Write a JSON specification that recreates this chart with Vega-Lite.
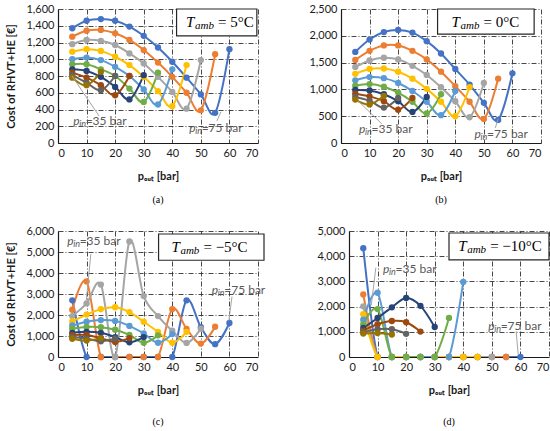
{
  "$schema": "https://vega.github.io/schema/vega-lite/v6.json",
  "padding": {"top": 3, "left": 5, "right": 5, "bottom": 5},
  "datasets": {
    "curves": [
      {"p":"a","s":"s01","x":5,"y":1370},{"p":"a","s":"s01","x":10,"y":1460},{"p":"a","s":"s01","x":15,"y":1480},{"p":"a","s":"s01","x":20,"y":1460},{"p":"a","s":"s01","x":25,"y":1390},{"p":"a","s":"s01","x":30,"y":1280},{"p":"a","s":"s01","x":35,"y":1140},{"p":"a","s":"s01","x":40,"y":970},{"p":"a","s":"s01","x":45,"y":780},{"p":"a","s":"s01","x":50,"y":580},{"p":"a","s":"s01","x":55,"y":360},{"p":"a","s":"s01","x":60,"y":1120},
      {"p":"a","s":"s02","x":5,"y":1270},{"p":"a","s":"s02","x":10,"y":1340},{"p":"a","s":"s02","x":15,"y":1350},{"p":"a","s":"s02","x":20,"y":1310},{"p":"a","s":"s02","x":25,"y":1230},{"p":"a","s":"s02","x":30,"y":1110},{"p":"a","s":"s02","x":35,"y":960},{"p":"a","s":"s02","x":40,"y":790},{"p":"a","s":"s02","x":45,"y":600},{"p":"a","s":"s02","x":50,"y":390},{"p":"a","s":"s02","x":55,"y":1060},
      {"p":"a","s":"s03","x":5,"y":1180},{"p":"a","s":"s03","x":10,"y":1230},{"p":"a","s":"s03","x":15,"y":1220},{"p":"a","s":"s03","x":20,"y":1170},{"p":"a","s":"s03","x":25,"y":1070},{"p":"a","s":"s03","x":30,"y":950},{"p":"a","s":"s03","x":35,"y":790},{"p":"a","s":"s03","x":40,"y":610},{"p":"a","s":"s03","x":45,"y":410},{"p":"a","s":"s03","x":50,"y":990},
      {"p":"a","s":"s04","x":5,"y":1090},{"p":"a","s":"s04","x":10,"y":1120},{"p":"a","s":"s04","x":15,"y":1100},{"p":"a","s":"s04","x":20,"y":1030},{"p":"a","s":"s04","x":25,"y":930},{"p":"a","s":"s04","x":30,"y":790},{"p":"a","s":"s04","x":35,"y":620},{"p":"a","s":"s04","x":40,"y":440},{"p":"a","s":"s04","x":45,"y":930},
      {"p":"a","s":"s05","x":5,"y":1000},{"p":"a","s":"s05","x":10,"y":1020},{"p":"a","s":"s05","x":15,"y":990},{"p":"a","s":"s05","x":20,"y":910},{"p":"a","s":"s05","x":25,"y":800},{"p":"a","s":"s05","x":30,"y":640},{"p":"a","s":"s05","x":35,"y":460},{"p":"a","s":"s05","x":40,"y":880},
      {"p":"a","s":"s06","x":5,"y":940},{"p":"a","s":"s06","x":10,"y":940},{"p":"a","s":"s06","x":15,"y":880},{"p":"a","s":"s06","x":20,"y":800},{"p":"a","s":"s06","x":25,"y":650},{"p":"a","s":"s06","x":30,"y":490},{"p":"a","s":"s06","x":35,"y":840},
      {"p":"a","s":"s07","x":5,"y":880},{"p":"a","s":"s07","x":10,"y":860},{"p":"a","s":"s07","x":15,"y":790},{"p":"a","s":"s07","x":20,"y":670},{"p":"a","s":"s07","x":25,"y":520},{"p":"a","s":"s07","x":30,"y":810},
      {"p":"a","s":"s08","x":5,"y":840},{"p":"a","s":"s08","x":10,"y":780},{"p":"a","s":"s08","x":15,"y":690},{"p":"a","s":"s08","x":20,"y":570},{"p":"a","s":"s08","x":25,"y":800},
      {"p":"a","s":"s09","x":5,"y":810},{"p":"a","s":"s09","x":10,"y":720},{"p":"a","s":"s09","x":15,"y":630},{"p":"a","s":"s09","x":20,"y":800},
      {"p":"a","s":"s10","x":5,"y":780},{"p":"a","s":"s10","x":10,"y":690},{"p":"a","s":"s10","x":15,"y":850},

      {"p":"b","s":"s01","x":5,"y":1700},{"p":"b","s":"s01","x":10,"y":1930},{"p":"b","s":"s01","x":15,"y":2070},{"p":"b","s":"s01","x":20,"y":2110},{"p":"b","s":"s01","x":25,"y":2060},{"p":"b","s":"s01","x":30,"y":1900},{"p":"b","s":"s01","x":35,"y":1670},{"p":"b","s":"s01","x":40,"y":1380},{"p":"b","s":"s01","x":45,"y":1090},{"p":"b","s":"s01","x":50,"y":750},{"p":"b","s":"s01","x":55,"y":430},{"p":"b","s":"s01","x":60,"y":1300},
      {"p":"b","s":"s02","x":5,"y":1550},{"p":"b","s":"s02","x":10,"y":1720},{"p":"b","s":"s02","x":15,"y":1820},{"p":"b","s":"s02","x":20,"y":1820},{"p":"b","s":"s02","x":25,"y":1720},{"p":"b","s":"s02","x":30,"y":1560},{"p":"b","s":"s02","x":35,"y":1330},{"p":"b","s":"s02","x":40,"y":1060},{"p":"b","s":"s02","x":45,"y":770},{"p":"b","s":"s02","x":50,"y":450},{"p":"b","s":"s02","x":55,"y":1200},
      {"p":"b","s":"s03","x":5,"y":1420},{"p":"b","s":"s03","x":10,"y":1540},{"p":"b","s":"s03","x":15,"y":1590},{"p":"b","s":"s03","x":20,"y":1560},{"p":"b","s":"s03","x":25,"y":1440},{"p":"b","s":"s03","x":30,"y":1270},{"p":"b","s":"s03","x":35,"y":1040},{"p":"b","s":"s03","x":40,"y":780},{"p":"b","s":"s03","x":45,"y":480},{"p":"b","s":"s03","x":50,"y":1120},
      {"p":"b","s":"s04","x":5,"y":1290},{"p":"b","s":"s04","x":10,"y":1380},{"p":"b","s":"s04","x":15,"y":1390},{"p":"b","s":"s04","x":20,"y":1330},{"p":"b","s":"s04","x":25,"y":1200},{"p":"b","s":"s04","x":30,"y":1010},{"p":"b","s":"s04","x":35,"y":770},{"p":"b","s":"s04","x":40,"y":500},{"p":"b","s":"s04","x":45,"y":1040},
      {"p":"b","s":"s05","x":5,"y":1170},{"p":"b","s":"s05","x":10,"y":1230},{"p":"b","s":"s05","x":15,"y":1210},{"p":"b","s":"s05","x":20,"y":1120},{"p":"b","s":"s05","x":25,"y":970},{"p":"b","s":"s05","x":30,"y":770},{"p":"b","s":"s05","x":35,"y":520},{"p":"b","s":"s05","x":40,"y":970},
      {"p":"b","s":"s06","x":5,"y":1070},{"p":"b","s":"s06","x":10,"y":1100},{"p":"b","s":"s06","x":15,"y":1050},{"p":"b","s":"s06","x":20,"y":940},{"p":"b","s":"s06","x":25,"y":770},{"p":"b","s":"s06","x":30,"y":550},{"p":"b","s":"s06","x":35,"y":910},
      {"p":"b","s":"s07","x":5,"y":990},{"p":"b","s":"s07","x":10,"y":980},{"p":"b","s":"s07","x":15,"y":910},{"p":"b","s":"s07","x":20,"y":780},{"p":"b","s":"s07","x":25,"y":580},{"p":"b","s":"s07","x":30,"y":860},
      {"p":"b","s":"s08","x":5,"y":920},{"p":"b","s":"s08","x":10,"y":870},{"p":"b","s":"s08","x":15,"y":780},{"p":"b","s":"s08","x":20,"y":620},{"p":"b","s":"s08","x":25,"y":840},
      {"p":"b","s":"s09","x":5,"y":860},{"p":"b","s":"s09","x":10,"y":790},{"p":"b","s":"s09","x":15,"y":660},{"p":"b","s":"s09","x":20,"y":840},
      {"p":"b","s":"s10","x":5,"y":810},{"p":"b","s":"s10","x":10,"y":720},{"p":"b","s":"s10","x":15,"y":880},

      {"p":"c","s":"s01","x":5,"y":2700},{"p":"c","s":"s01","x":10,"y":0},{"p":"c","s":"s01","x":15,"y":0},{"p":"c","s":"s01","x":20,"y":0},{"p":"c","s":"s01","x":25,"y":0},{"p":"c","s":"s01","x":30,"y":0},{"p":"c","s":"s01","x":35,"y":0},{"p":"c","s":"s01","x":40,"y":0},{"p":"c","s":"s01","x":45,"y":2700},{"p":"c","s":"s01","x":50,"y":1420},{"p":"c","s":"s01","x":55,"y":610},{"p":"c","s":"s01","x":60,"y":1620},
      {"p":"c","s":"s02","x":5,"y":2250},{"p":"c","s":"s02","x":10,"y":3600},{"p":"c","s":"s02","x":15,"y":0},{"p":"c","s":"s02","x":20,"y":0},{"p":"c","s":"s02","x":25,"y":0},{"p":"c","s":"s02","x":30,"y":0},{"p":"c","s":"s02","x":35,"y":0},{"p":"c","s":"s02","x":40,"y":2280},{"p":"c","s":"s02","x":45,"y":1340},{"p":"c","s":"s02","x":50,"y":640},{"p":"c","s":"s02","x":55,"y":1440},
      {"p":"c","s":"s03","x":5,"y":1950},{"p":"c","s":"s03","x":10,"y":2550},{"p":"c","s":"s03","x":15,"y":3450},{"p":"c","s":"s03","x":20,"y":0},{"p":"c","s":"s03","x":25,"y":5500},{"p":"c","s":"s03","x":30,"y":2900},{"p":"c","s":"s03","x":35,"y":1950},{"p":"c","s":"s03","x":40,"y":1250},{"p":"c","s":"s03","x":45,"y":670},{"p":"c","s":"s03","x":50,"y":1350},
      {"p":"c","s":"s04","x":5,"y":1700},{"p":"c","s":"s04","x":10,"y":2020},{"p":"c","s":"s04","x":15,"y":2280},{"p":"c","s":"s04","x":20,"y":2370},{"p":"c","s":"s04","x":25,"y":2140},{"p":"c","s":"s04","x":30,"y":1680},{"p":"c","s":"s04","x":35,"y":1200},{"p":"c","s":"s04","x":40,"y":680},{"p":"c","s":"s04","x":45,"y":1200},
      {"p":"c","s":"s05","x":5,"y":1500},{"p":"c","s":"s05","x":10,"y":1680},{"p":"c","s":"s05","x":15,"y":1760},{"p":"c","s":"s05","x":20,"y":1720},{"p":"c","s":"s05","x":25,"y":1480},{"p":"c","s":"s05","x":30,"y":1120},{"p":"c","s":"s05","x":35,"y":680},{"p":"c","s":"s05","x":40,"y":1090},
      {"p":"c","s":"s06","x":5,"y":1350},{"p":"c","s":"s06","x":10,"y":1430},{"p":"c","s":"s06","x":15,"y":1420},{"p":"c","s":"s06","x":20,"y":1300},{"p":"c","s":"s06","x":25,"y":1050},{"p":"c","s":"s06","x":30,"y":680},{"p":"c","s":"s06","x":35,"y":1030},
      {"p":"c","s":"s07","x":5,"y":1150},{"p":"c","s":"s07","x":10,"y":1200},{"p":"c","s":"s07","x":15,"y":1150},{"p":"c","s":"s07","x":20,"y":950},{"p":"c","s":"s07","x":25,"y":700},{"p":"c","s":"s07","x":30,"y":950},
      {"p":"c","s":"s08","x":5,"y":1050},{"p":"c","s":"s08","x":10,"y":1050},{"p":"c","s":"s08","x":15,"y":900},{"p":"c","s":"s08","x":20,"y":720},{"p":"c","s":"s08","x":25,"y":900},
      {"p":"c","s":"s09","x":5,"y":950},{"p":"c","s":"s09","x":10,"y":880},{"p":"c","s":"s09","x":15,"y":750},{"p":"c","s":"s09","x":20,"y":880},
      {"p":"c","s":"s10","x":5,"y":870},{"p":"c","s":"s10","x":10,"y":780},{"p":"c","s":"s10","x":15,"y":900},

      {"p":"d","s":"s01","x":5,"y":4320},{"p":"d","s":"s01","x":10,"y":0},{"p":"d","s":"s01","x":15,"y":0},{"p":"d","s":"s01","x":20,"y":0},{"p":"d","s":"s01","x":25,"y":0},{"p":"d","s":"s01","x":30,"y":0},{"p":"d","s":"s01","x":35,"y":0},{"p":"d","s":"s01","x":40,"y":0},{"p":"d","s":"s01","x":45,"y":0},{"p":"d","s":"s01","x":50,"y":0},{"p":"d","s":"s01","x":55,"y":0},{"p":"d","s":"s01","x":60,"y":0},
      {"p":"d","s":"s02","x":5,"y":2480},{"p":"d","s":"s02","x":10,"y":0},{"p":"d","s":"s02","x":15,"y":0},{"p":"d","s":"s02","x":20,"y":0},{"p":"d","s":"s02","x":25,"y":0},{"p":"d","s":"s02","x":30,"y":0},{"p":"d","s":"s02","x":35,"y":0},{"p":"d","s":"s02","x":40,"y":0},{"p":"d","s":"s02","x":45,"y":0},{"p":"d","s":"s02","x":50,"y":0},{"p":"d","s":"s02","x":55,"y":0},
      {"p":"d","s":"s03","x":5,"y":2010},{"p":"d","s":"s03","x":10,"y":0},{"p":"d","s":"s03","x":15,"y":0},{"p":"d","s":"s03","x":20,"y":0},{"p":"d","s":"s03","x":25,"y":0},{"p":"d","s":"s03","x":30,"y":0},{"p":"d","s":"s03","x":35,"y":0},{"p":"d","s":"s03","x":40,"y":0},{"p":"d","s":"s03","x":45,"y":0},{"p":"d","s":"s03","x":50,"y":0},
      {"p":"d","s":"s04","x":5,"y":1700},{"p":"d","s":"s04","x":10,"y":0},{"p":"d","s":"s04","x":15,"y":0},{"p":"d","s":"s04","x":20,"y":0},{"p":"d","s":"s04","x":25,"y":0},{"p":"d","s":"s04","x":30,"y":0},{"p":"d","s":"s04","x":35,"y":0},{"p":"d","s":"s04","x":40,"y":0},{"p":"d","s":"s04","x":45,"y":0},
      {"p":"d","s":"s05","x":5,"y":1480},{"p":"d","s":"s05","x":10,"y":2550},{"p":"d","s":"s05","x":15,"y":0},{"p":"d","s":"s05","x":20,"y":0},{"p":"d","s":"s05","x":25,"y":0},{"p":"d","s":"s05","x":30,"y":0},{"p":"d","s":"s05","x":35,"y":0},{"p":"d","s":"s05","x":40,"y":2980},
      {"p":"d","s":"s06","x":5,"y":1300},{"p":"d","s":"s06","x":10,"y":1900},{"p":"d","s":"s06","x":15,"y":0},{"p":"d","s":"s06","x":20,"y":0},{"p":"d","s":"s06","x":25,"y":0},{"p":"d","s":"s06","x":30,"y":0},{"p":"d","s":"s06","x":35,"y":1550},
      {"p":"d","s":"s07","x":5,"y":1150},{"p":"d","s":"s07","x":10,"y":1550},{"p":"d","s":"s07","x":15,"y":1970},{"p":"d","s":"s07","x":20,"y":2340},{"p":"d","s":"s07","x":25,"y":2030},{"p":"d","s":"s07","x":30,"y":1190},
      {"p":"d","s":"s08","x":5,"y":1050},{"p":"d","s":"s08","x":10,"y":1300},{"p":"d","s":"s08","x":15,"y":1430},{"p":"d","s":"s08","x":20,"y":1380},{"p":"d","s":"s08","x":25,"y":1010},
      {"p":"d","s":"s09","x":5,"y":980},{"p":"d","s":"s09","x":10,"y":1100},{"p":"d","s":"s09","x":15,"y":1100},{"p":"d","s":"s09","x":20,"y":920},
      {"p":"d","s":"s10","x":5,"y":930},{"p":"d","s":"s10","x":10,"y":950},{"p":"d","s":"s10","x":15,"y":890}
    ],
    "notes": [
      {"p":"a","k":"box","x":41.5,"x2":69.6,"y":1280,"y2":1600},
      {"p":"a","k":"tamb","x":44.8,"y":1440,"t":"= 5°C"},
      {"p":"a","k":"lead","x":14.4,"y":322,"x2":4.9,"y2":800},
      {"p":"a","k":"lead","x":55.6,"y":263,"x2":57,"y2":370},
      {"p":"a","k":"lab","x":5.3,"y":263,"t":"=35 bar"},
      {"p":"a","k":"lab","x":45.9,"y":179,"t":"=75 bar"},
      {"p":"b","k":"box","x":33.8,"x2":67.6,"y":2030,"y2":2500},
      {"p":"b","k":"tamb","x":38.7,"y":2265,"t":"= 0°C"},
      {"p":"b","k":"lead","x":14.3,"y":357,"x2":5.9,"y2":790},
      {"p":"b","k":"lead","x":54,"y":282,"x2":55,"y2":451},
      {"p":"b","k":"lab","x":6.3,"y":263,"t":"=35 bar"},
      {"p":"b","k":"lab","x":46.7,"y":169,"t":"=75 bar"},
      {"p":"c","k":"box","x":35.2,"x2":72.1,"y":4608,"y2":5856},
      {"p":"c","k":"tamb","x":39.7,"y":5232,"t":"= −5°C"},
      {"p":"c","k":"lead","x":11.5,"y":4900,"x2":9.9,"y2":2700},
      {"p":"c","k":"lead","x":60.9,"y":2880,"x2":59.8,"y2":1730},
      {"p":"c","k":"lab","x":3.2,"y":5520,"t":"=35 bar"},
      {"p":"c","k":"lab","x":53.8,"y":3168,"t":"=75 bar"},
      {"p":"d","k":"box","x":35,"x2":70,"y":3858,"y2":4921},
      {"p":"d","k":"tamb","x":38.2,"y":4390,"t":"= −10°C"},
      {"p":"d","k":"lead","x":9.4,"y":3550,"x2":7.8,"y2":2050},
      {"p":"d","k":"lead","x":58.5,"y":1020,"x2":59.2,"y2":120},
      {"p":"d","k":"lab","x":11.9,"y":3504,"t":"=35 bar"},
      {"p":"d","k":"lab","x":48.7,"y":1220,"t":"=75 bar"}
    ]
  },
  "spacing": 20,
  "vconcat": [
    {
      "spacing": 50,
      "hconcat": [
        {
          "width": 200, "height": 134,
          "title": {"text": "(a)", "offset": 14},
          "encoding": {
            "x": {"field": "x", "type": "quantitative", "scale": {"domain": [0, 70], "nice": false}, "axis": {"values": [0,10,20,30,40,50,60,70], "title": "pₒᵤₜ [bar]"}},
            "y": {"field": "y", "type": "quantitative", "scale": {"domain": [0, 1600], "nice": false}, "axis": {"values": [0,200,400,600,800,1000,1200,1400,1600], "format": ",.0f", "title": "Cost of RHVT+HE [€]"}}
          },
          "layer": [
            {"data": {"name": "curves"}, "transform": [{"filter": "datum.p=='a'"}], "mark": {"type": "line", "interpolate": "cardinal", "strokeWidth": 2, "clip": true}, "encoding": {"color": {"field": "s", "type": "nominal", "legend": null, "scale": {"domain": ["s01","s02","s03","s04","s05","s06","s07","s08","s09","s10"], "range": ["#4472c4","#ed7d31","#a5a5a5","#ffc000","#5b9bd5","#70ad47","#264478","#9e480e","#636363","#997300"]}}}},
            {"data": {"name": "curves"}, "transform": [{"filter": "datum.p=='a'"}], "mark": {"type": "circle", "size": 40, "opacity": 1}, "encoding": {"color": {"field": "s", "type": "nominal", "legend": null}}},
            {"data": {"name": "notes"}, "transform": [{"filter": "datum.p=='a' && datum.k=='box'"}], "mark": {"type": "rect", "fill": "#ffffff", "stroke": "#262626", "strokeWidth": 1.2}, "encoding": {"x2": {"field": "x2"}, "y2": {"field": "y2"}}},
            {"data": {"name": "notes"}, "transform": [{"filter": "datum.p=='a' && datum.k=='tamb'"}], "mark": {"type": "text", "text": "T", "font": "Liberation Serif", "fontStyle": "italic", "fontSize": 15, "align": "left", "baseline": "middle", "color": "#000000"}},
            {"data": {"name": "notes"}, "transform": [{"filter": "datum.p=='a' && datum.k=='tamb'"}], "mark": {"type": "text", "text": "amb", "font": "Liberation Serif", "fontStyle": "italic", "fontSize": 11, "align": "left", "baseline": "middle", "dx": 9, "dy": 4, "color": "#000000"}},
            {"data": {"name": "notes"}, "transform": [{"filter": "datum.p=='a' && datum.k=='tamb'"}], "mark": {"type": "text", "font": "Liberation Serif", "fontSize": 15, "align": "left", "baseline": "middle", "dx": 32, "color": "#000000"}, "encoding": {"text": {"field": "t"}}},
            {"data": {"name": "notes"}, "transform": [{"filter": "datum.p=='a' && datum.k=='lead'"}], "mark": {"type": "rule", "color": "#a5a5a5", "strokeWidth": 1}, "encoding": {"x2": {"field": "x2"}, "y2": {"field": "y2"}}},
            {"data": {"name": "notes"}, "transform": [{"filter": "datum.p=='a' && datum.k=='lab'"}], "mark": {"type": "text", "text": "p", "fontStyle": "italic", "fontSize": 12, "align": "left", "baseline": "middle", "color": "#595959"}},
            {"data": {"name": "notes"}, "transform": [{"filter": "datum.p=='a' && datum.k=='lab'"}], "mark": {"type": "text", "text": "in", "fontStyle": "italic", "fontSize": 9, "align": "left", "baseline": "middle", "dx": 6, "dy": 3, "color": "#595959"}},
            {"data": {"name": "notes"}, "transform": [{"filter": "datum.p=='a' && datum.k=='lab'"}], "mark": {"type": "text", "fontSize": 12, "align": "left", "baseline": "middle", "dx": 12.5, "color": "#595959"}, "encoding": {"text": {"field": "t"}}}
          ]
        },
        {
          "width": 200, "height": 134,
          "title": {"text": "(b)", "offset": 14},
          "encoding": {
            "x": {"field": "x", "type": "quantitative", "scale": {"domain": [0, 70], "nice": false}, "axis": {"values": [0,10,20,30,40,50,60,70], "title": "pₒᵤₜ [bar]"}},
            "y": {"field": "y", "type": "quantitative", "scale": {"domain": [0, 2500], "nice": false}, "axis": {"values": [0,500,1000,1500,2000,2500], "format": ",.0f", "title": null}}
          },
          "layer": [
            {"data": {"name": "curves"}, "transform": [{"filter": "datum.p=='b'"}], "mark": {"type": "line", "interpolate": "cardinal", "strokeWidth": 2, "clip": true}, "encoding": {"color": {"field": "s", "type": "nominal", "legend": null, "scale": {"domain": ["s01","s02","s03","s04","s05","s06","s07","s08","s09","s10"], "range": ["#4472c4","#ed7d31","#a5a5a5","#ffc000","#5b9bd5","#70ad47","#264478","#9e480e","#636363","#997300"]}}}},
            {"data": {"name": "curves"}, "transform": [{"filter": "datum.p=='b'"}], "mark": {"type": "circle", "size": 40, "opacity": 1}, "encoding": {"color": {"field": "s", "type": "nominal", "legend": null}}},
            {"data": {"name": "notes"}, "transform": [{"filter": "datum.p=='b' && datum.k=='box'"}], "mark": {"type": "rect", "fill": "#ffffff", "stroke": "#262626", "strokeWidth": 1.2}, "encoding": {"x2": {"field": "x2"}, "y2": {"field": "y2"}}},
            {"data": {"name": "notes"}, "transform": [{"filter": "datum.p=='b' && datum.k=='tamb'"}], "mark": {"type": "text", "text": "T", "font": "Liberation Serif", "fontStyle": "italic", "fontSize": 15, "align": "left", "baseline": "middle", "color": "#000000"}},
            {"data": {"name": "notes"}, "transform": [{"filter": "datum.p=='b' && datum.k=='tamb'"}], "mark": {"type": "text", "text": "amb", "font": "Liberation Serif", "fontStyle": "italic", "fontSize": 11, "align": "left", "baseline": "middle", "dx": 9, "dy": 4, "color": "#000000"}},
            {"data": {"name": "notes"}, "transform": [{"filter": "datum.p=='b' && datum.k=='tamb'"}], "mark": {"type": "text", "font": "Liberation Serif", "fontSize": 15, "align": "left", "baseline": "middle", "dx": 32, "color": "#000000"}, "encoding": {"text": {"field": "t"}}},
            {"data": {"name": "notes"}, "transform": [{"filter": "datum.p=='b' && datum.k=='lead'"}], "mark": {"type": "rule", "color": "#a5a5a5", "strokeWidth": 1}, "encoding": {"x2": {"field": "x2"}, "y2": {"field": "y2"}}},
            {"data": {"name": "notes"}, "transform": [{"filter": "datum.p=='b' && datum.k=='lab'"}], "mark": {"type": "text", "text": "p", "fontStyle": "italic", "fontSize": 12, "align": "left", "baseline": "middle", "color": "#595959"}},
            {"data": {"name": "notes"}, "transform": [{"filter": "datum.p=='b' && datum.k=='lab'"}], "mark": {"type": "text", "text": "in", "fontStyle": "italic", "fontSize": 9, "align": "left", "baseline": "middle", "dx": 6, "dy": 3, "color": "#595959"}},
            {"data": {"name": "notes"}, "transform": [{"filter": "datum.p=='b' && datum.k=='lab'"}], "mark": {"type": "text", "fontSize": 12, "align": "left", "baseline": "middle", "dx": 12.5, "color": "#595959"}, "encoding": {"text": {"field": "t"}}}
          ]
        }
      ]
    },
    {
      "spacing": 50,
      "hconcat": [
        {
          "width": 200, "height": 126,
          "title": {"text": "(c)", "offset": 22},
          "encoding": {
            "x": {"field": "x", "type": "quantitative", "scale": {"domain": [0, 70], "nice": false}, "axis": {"values": [0,10,20,30,40,50,60,70], "title": "pₒᵤₜ [bar]"}},
            "y": {"field": "y", "type": "quantitative", "scale": {"domain": [0, 6000], "nice": false}, "axis": {"values": [0,1000,2000,3000,4000,5000,6000], "format": ",.0f", "title": "Cost of RHVT+HE [€]"}}
          },
          "layer": [
            {"data": {"name": "curves"}, "transform": [{"filter": "datum.p=='c'"}], "mark": {"type": "line", "interpolate": "cardinal", "strokeWidth": 2, "clip": true}, "encoding": {"color": {"field": "s", "type": "nominal", "legend": null, "scale": {"domain": ["s01","s02","s03","s04","s05","s06","s07","s08","s09","s10"], "range": ["#4472c4","#ed7d31","#a5a5a5","#ffc000","#5b9bd5","#70ad47","#264478","#9e480e","#636363","#997300"]}}}},
            {"data": {"name": "curves"}, "transform": [{"filter": "datum.p=='c'"}], "mark": {"type": "circle", "size": 40, "opacity": 1}, "encoding": {"color": {"field": "s", "type": "nominal", "legend": null}}},
            {"data": {"name": "notes"}, "transform": [{"filter": "datum.p=='c' && datum.k=='box'"}], "mark": {"type": "rect", "fill": "#ffffff", "stroke": "#262626", "strokeWidth": 1.2}, "encoding": {"x2": {"field": "x2"}, "y2": {"field": "y2"}}},
            {"data": {"name": "notes"}, "transform": [{"filter": "datum.p=='c' && datum.k=='tamb'"}], "mark": {"type": "text", "text": "T", "font": "Liberation Serif", "fontStyle": "italic", "fontSize": 15, "align": "left", "baseline": "middle", "color": "#000000"}},
            {"data": {"name": "notes"}, "transform": [{"filter": "datum.p=='c' && datum.k=='tamb'"}], "mark": {"type": "text", "text": "amb", "font": "Liberation Serif", "fontStyle": "italic", "fontSize": 11, "align": "left", "baseline": "middle", "dx": 9, "dy": 4, "color": "#000000"}},
            {"data": {"name": "notes"}, "transform": [{"filter": "datum.p=='c' && datum.k=='tamb'"}], "mark": {"type": "text", "font": "Liberation Serif", "fontSize": 15, "align": "left", "baseline": "middle", "dx": 32, "color": "#000000"}, "encoding": {"text": {"field": "t"}}},
            {"data": {"name": "notes"}, "transform": [{"filter": "datum.p=='c' && datum.k=='lead'"}], "mark": {"type": "rule", "color": "#a5a5a5", "strokeWidth": 1}, "encoding": {"x2": {"field": "x2"}, "y2": {"field": "y2"}}},
            {"data": {"name": "notes"}, "transform": [{"filter": "datum.p=='c' && datum.k=='lab'"}], "mark": {"type": "text", "text": "p", "fontStyle": "italic", "fontSize": 12, "align": "left", "baseline": "middle", "color": "#595959"}},
            {"data": {"name": "notes"}, "transform": [{"filter": "datum.p=='c' && datum.k=='lab'"}], "mark": {"type": "text", "text": "in", "fontStyle": "italic", "fontSize": 9, "align": "left", "baseline": "middle", "dx": 6, "dy": 3, "color": "#595959"}},
            {"data": {"name": "notes"}, "transform": [{"filter": "datum.p=='c' && datum.k=='lab'"}], "mark": {"type": "text", "fontSize": 12, "align": "left", "baseline": "middle", "dx": 12.5, "color": "#595959"}, "encoding": {"text": {"field": "t"}}}
          ]
        },
        {
          "width": 200, "height": 126,
          "title": {"text": "(d)", "offset": 22},
          "encoding": {
            "x": {"field": "x", "type": "quantitative", "scale": {"domain": [0, 70], "nice": false}, "axis": {"values": [0,10,20,30,40,50,60,70], "title": "pₒᵤₜ [bar]"}},
            "y": {"field": "y", "type": "quantitative", "scale": {"domain": [0, 5000], "nice": false}, "axis": {"values": [0,1000,2000,3000,4000,5000], "format": ",.0f", "title": null}}
          },
          "layer": [
            {"data": {"name": "curves"}, "transform": [{"filter": "datum.p=='d'"}], "mark": {"type": "line", "interpolate": "cardinal", "strokeWidth": 2, "clip": true}, "encoding": {"color": {"field": "s", "type": "nominal", "legend": null, "scale": {"domain": ["s01","s02","s03","s04","s05","s06","s07","s08","s09","s10"], "range": ["#4472c4","#ed7d31","#a5a5a5","#ffc000","#5b9bd5","#70ad47","#264478","#9e480e","#636363","#997300"]}}}},
            {"data": {"name": "curves"}, "transform": [{"filter": "datum.p=='d'"}], "mark": {"type": "circle", "size": 40, "opacity": 1}, "encoding": {"color": {"field": "s", "type": "nominal", "legend": null}}},
            {"data": {"name": "notes"}, "transform": [{"filter": "datum.p=='d' && datum.k=='box'"}], "mark": {"type": "rect", "fill": "#ffffff", "stroke": "#262626", "strokeWidth": 1.2}, "encoding": {"x2": {"field": "x2"}, "y2": {"field": "y2"}}},
            {"data": {"name": "notes"}, "transform": [{"filter": "datum.p=='d' && datum.k=='tamb'"}], "mark": {"type": "text", "text": "T", "font": "Liberation Serif", "fontStyle": "italic", "fontSize": 15, "align": "left", "baseline": "middle", "color": "#000000"}},
            {"data": {"name": "notes"}, "transform": [{"filter": "datum.p=='d' && datum.k=='tamb'"}], "mark": {"type": "text", "text": "amb", "font": "Liberation Serif", "fontStyle": "italic", "fontSize": 11, "align": "left", "baseline": "middle", "dx": 9, "dy": 4, "color": "#000000"}},
            {"data": {"name": "notes"}, "transform": [{"filter": "datum.p=='d' && datum.k=='tamb'"}], "mark": {"type": "text", "font": "Liberation Serif", "fontSize": 15, "align": "left", "baseline": "middle", "dx": 32, "color": "#000000"}, "encoding": {"text": {"field": "t"}}},
            {"data": {"name": "notes"}, "transform": [{"filter": "datum.p=='d' && datum.k=='lead'"}], "mark": {"type": "rule", "color": "#a5a5a5", "strokeWidth": 1}, "encoding": {"x2": {"field": "x2"}, "y2": {"field": "y2"}}},
            {"data": {"name": "notes"}, "transform": [{"filter": "datum.p=='d' && datum.k=='lab'"}], "mark": {"type": "text", "text": "p", "fontStyle": "italic", "fontSize": 12, "align": "left", "baseline": "middle", "color": "#595959"}},
            {"data": {"name": "notes"}, "transform": [{"filter": "datum.p=='d' && datum.k=='lab'"}], "mark": {"type": "text", "text": "in", "fontStyle": "italic", "fontSize": 9, "align": "left", "baseline": "middle", "dx": 6, "dy": 3, "color": "#595959"}},
            {"data": {"name": "notes"}, "transform": [{"filter": "datum.p=='d' && datum.k=='lab'"}], "mark": {"type": "text", "fontSize": 12, "align": "left", "baseline": "middle", "dx": 12.5, "color": "#595959"}, "encoding": {"text": {"field": "t"}}}
          ]
        }
      ]
    }
  ],
  "config": {
    "font": "Lato",
    "view": {"stroke": null},
    "axis": {
      "labelFont": "Lato", "labelFontSize": 11, "labelColor": "#1a1a1a", "labelPadding": 4,
      "titleFont": "Lato", "titleFontSize": 11, "titleColor": "#1a1a1a", "titleFontWeight": "bold",
      "ticks": false, "domainColor": "#1a1a1a", "domainWidth": 1.2,
      "gridColor": "#333333", "gridDash": [5, 2, 1, 2], "gridWidth": 0.9
    },
    "axisX": {"titlePadding": 12},
    "axisY": {"titlePadding": 9},
    "title": {"orient": "bottom", "font": "Liberation Serif", "fontSize": 10, "fontWeight": "normal", "color": "#000000", "offset": 8}
  }
}
